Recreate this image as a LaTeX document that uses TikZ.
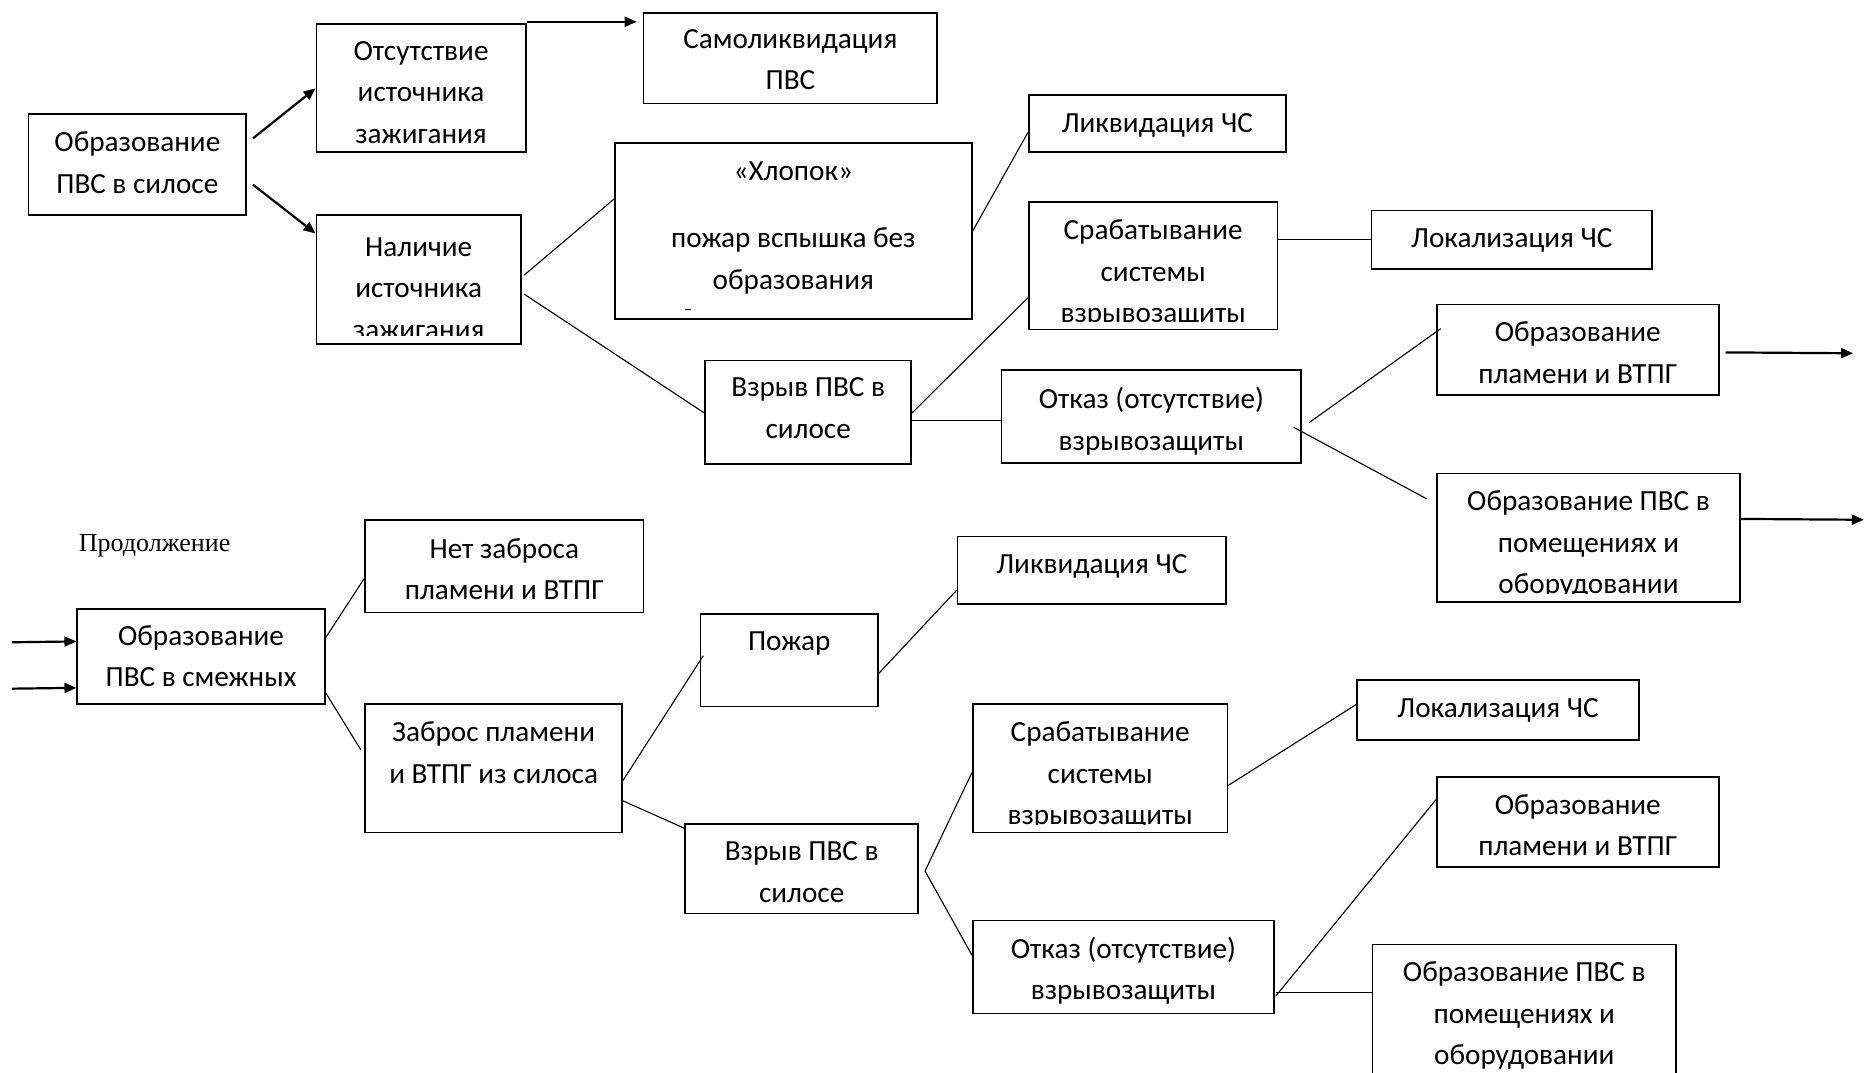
\documentclass[tikz,border=0pt]{standalone}
\usepackage{fontspec}
\setmainfont{Carlito}
\newfontfamily\serifrm{Liberation Serif}
\usetikzlibrary{arrows.meta,fit,calc}
% box text: [#1 extra drop in px] #2 box name, #3 text (clipped to the box, top aligned)
\newcommand\boxtext[3][8]{%
  \begin{scope}
    \clip (#2.south west) rectangle (#2.north east);
    \node[txt, anchor=north] (#2t) at ([yshift={-4.2pt-#1*0.5947pt}]#2.north) {#3};
  \end{scope}}
% same, but the text area ends a little above the bottom border (last line cut off)
\newcommand\boxtextcut[3][8]{%
  \begin{scope}
    \clip ([yshift=4.4pt]#2.south west) rectangle (#2.north east);
    \node[txt, anchor=north] (#2t) at ([yshift={-4.2pt-#1*0.5947pt}]#2.north) {#3};
  \end{scope}}
\begin{document}
\begin{tikzpicture}[x=0.5947pt,y=-0.5947pt,
  txt/.style={font=\fontsize{14.6}{20.8}\selectfont, align=center, inner sep=0pt, execute at begin node=\strut},
  bx/.style={draw, line width=0.85pt, inner sep=0pt},
  conn/.style={line width=0.55pt},
  arr/.style={line width=1.1pt, -{Triangle[length=6pt,width=5pt]}},
]
\useasboundingbox (0,0) rectangle (1568,902);

% ---------- upper tree ----------
\node[bx, fit={(24,96)(207,181)}] (b1) {};
\node[bx, fit={(266,20)(442,128)}] (b2) {};
\node[bx, fit={(541,11)(788,87)}] (b3) {};
\node[bx, fit={(266,181)(438,289)}] (b4) {};
\node[bx, fit={(517,120)(817,268)}] (b5) {};
\node[bx, fit={(865,80)(1081,128)}] (b6) {};
\node[bx, fit={(865,170)(1074,277)}] (b7) {};
\node[bx, fit={(1153,177)(1389,226)}] (b8) {};
\node[bx, fit={(593,303)(766,390)}] (b9) {};
\node[bx, fit={(842,311)(1094,389)}] (b10) {};
\node[bx, fit={(1208,256)(1445,332)}] (b11) {};
\node[bx, fit={(1208,398)(1463,506)}] (b12) {};

\boxtext{b1}{Образование\\ПВС в силосе}
\boxtext{b2}{Отсутствие\\источника\\зажигания}
\boxtext[7]{b3}{Самоликвидация\\ПВС}
\boxtextcut[12]{b4}{Наличие\\источника\\зажигания}
\boxtext[9]{b5}{«Хлопок»\\[13pt]пожар вспышка без\\образования}
\boxtext[0]{b6}{Ликвидация ЧС}
\boxtextcut{b7}{Срабатывание\\системы\\взрывозащиты}
\boxtext[0]{b8}{Локализация ЧС}
\boxtext{b9}{Взрыв ПВС в\\силосе}
\boxtext{b10}{Отказ (отсутствие)\\взрывозащиты}
\boxtext{b11}{Образование\\пламени и ВТПГ}
\boxtextcut{b12}{Образование ПВС в\\помещениях и\\оборудовании}

\coordinate (out1) at (1558,297);
\coordinate (out2) at (1567,437);

\draw[arr] ([shift={(5,21)}]b1.north east) -- ([shift={(0,55)}]b2.north west);
\draw[arr] ([shift={(5,60)}]b1.north east) -- ([shift={(0,16)}]b4.north west);
\draw[arr] ([shift={(0,-1)}]b2.north east) -- ([shift={(-5,8)}]b3.north west);
\draw[conn] ([shift={(2,51)}]b4.north east) -- ([shift={(0,48)}]b5.north west);
\draw[conn] ([shift={(2,67)}]b4.north east) -- ([shift={(0,45)}]b9.north west);
\draw[conn] ([shift={(0,75)}]b5.north east) -- ([shift={(0,32)}]b6.north west);
\draw[conn] ([shift={(0,45)}]b9.north east) -- ([shift={(0,81)}]b7.north west);
\draw[conn] ([shift={(0,51)}]b9.north east) -- ([shift={(0,43)}]b10.north west);
\draw[conn] ([shift={(0,32)}]b7.north east) -- ([shift={(0,25)}]b8.north west);
\draw[conn] ([shift={(6,45)}]b10.north east) -- ([shift={(4,21)}]b11.north west);
\draw[conn] ([shift={(-7,49)}]b10.north east) -- ([shift={(-8,22)}]b12.north west);
\draw[arr] ([shift={(5,41)}]b11.north east) -- (out1);
\draw[arr] ([shift={(0,39)}]b12.north east) -- (out2);
\draw[line width=0.5pt] (576,260) -- (581,260);

% ---------- lower tree ----------
\node[font=\serifrm\fontsize{13}{15}\selectfont, inner sep=0pt] (cont) at (130,459) {Продолжение};

\node[bx, fit={(307,437)(541,515)}] (b13) {};
\node[bx, fit={(65,512)(273,592)}] (b14) {};
\node[bx, fit={(307,592)(523,700)}] (b15) {};
\node[bx, fit={(589,516)(738,594)}] (b16) {};
\node[bx, fit={(805,451)(1031,508)}] (b17) {};
\node[bx, fit={(576,693)(772,768)}] (b18) {};
\node[bx, fit={(818,592)(1032,700)}] (b19) {};
\node[bx, fit={(1141,572)(1378,622)}] (b20) {};
\node[bx, fit={(1208,653)(1445,729)}] (b21) {};
\node[bx, fit={(818,774)(1071,852)}] (b22) {};
\node[bx, fit={(1154,794)(1409,915)}] (b23) {};

\boxtext[9]{b13}{Нет заброса\\пламени и ВТПГ}
\boxtext[7]{b14}{Образование\\ПВС в смежных}
\boxtext{b15}{Заброс пламени\\и ВТПГ из силоса}
\boxtext[0]{b16}{Пожар}
\boxtext[0]{b17}{Ликвидация ЧС}
\boxtext{b18}{Взрыв ПВС в\\силосе}
\boxtextcut{b19}{Срабатывание\\системы\\взрывозащиты}
\boxtext[0]{b20}{Локализация ЧС}
\boxtext{b21}{Образование\\пламени и ВТПГ}
\boxtext[7]{b22}{Отказ (отсутствие)\\взрывозащиты}
\boxtext{b23}{Образование ПВС в\\помещениях и\\оборудовании}

\coordinate (in1) at (10,540);
\coordinate (in2) at (10,579);

\draw[arr] (in1) -- ([shift={(0,28)}]b14.north west);
\draw[arr] (in2) -- ([shift={(0,67)}]b14.north west);
\draw[conn] ([shift={(0,25)}]b14.north east) -- ([shift={(0,50)}]b13.north west);
\draw[conn] ([shift={(0,71)}]b14.north east) -- ([shift={(-3,39)}]b15.north west);
\draw[conn] ([shift={(0,65)}]b15.north east) -- ([shift={(3,36)}]b16.north west);
\draw[conn] ([shift={(0,82)}]b15.north east) -- ([shift={(0,4)}]b18.north west);
\draw[conn] ([shift={(0,51)}]b16.north east) -- ([shift={(0,46)}]b17.north west);
\draw[conn] ([shift={(5,40)}]b18.north east) -- ([shift={(0,58)}]b19.north west);
\draw[conn] ([shift={(5,40)}]b18.north east) -- ([shift={(0,30)}]b22.north west);
\draw[conn] ([shift={(0,69)}]b19.north east) -- ([shift={(0,21)}]b20.north west);
\draw[conn] ([shift={(1,64)}]b22.north east) -- ([shift={(0,20)}]b21.north west);
\draw[conn] ([shift={(1,61)}]b22.north east) -- ([shift={(0,41)}]b23.north west);
\end{tikzpicture}
\end{document}
